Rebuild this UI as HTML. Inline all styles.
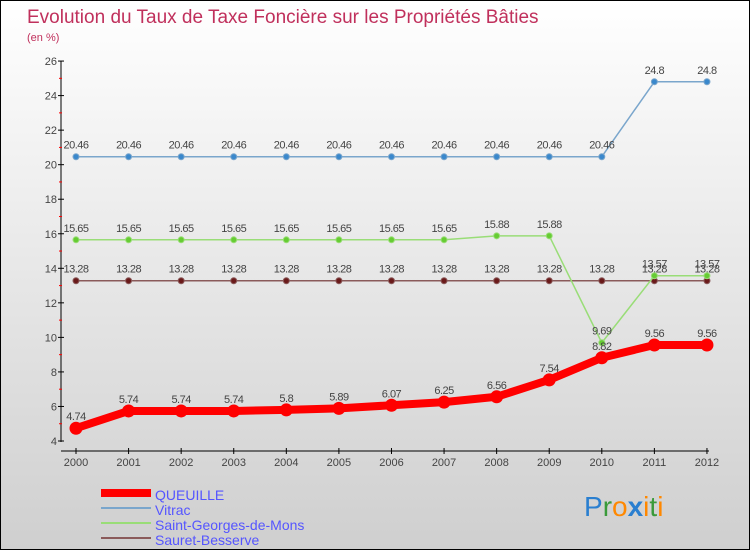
<!DOCTYPE html>
<html><head><meta charset="utf-8"><style>
body{margin:0}
#c{width:748px;height:548px;border:1px solid #000;background:linear-gradient(#fff,#cfcfcf);position:relative;font-family:"Liberation Sans",sans-serif}
</style></head><body>
<div id="c">
<svg id="s" width="748" height="548" style="position:absolute;left:0;top:0" font-family="Liberation Sans, sans-serif">
<text x="26" y="22" font-size="19" fill="#c0305c">Evolution du Taux de Taxe Foncière sur les Propriétés Bâties</text>
<text x="26" y="40" font-size="11" fill="#c0305c">(en %)</text>
<g id="ax"></g><g id="marks"></g>
<g>
<rect x="100" y="488" width="50" height="8" fill="#f00"/>
<text x="154" y="499" font-size="14" fill="#5555ff">QUEUILLE</text>
<rect x="100" y="506" width="50" height="2" fill="#7aa6cc"/>
<text x="154" y="514" font-size="14" fill="#5555ff">Vitrac</text>
<rect x="100" y="521" width="50" height="2" fill="#99dd77"/>
<text x="154" y="529" font-size="14" fill="#5555ff">Saint-Georges-de-Mons</text>
<rect x="100" y="536" width="50" height="2" fill="#8a5a5a"/>
<text x="154" y="544" font-size="14" fill="#5555ff">Sauret-Besserve</text>
</g>
<g font-size="28">
<text x="583" y="515"><tspan fill="#2a7fd0">P</tspan><tspan fill="#3a9a3a">r</tspan><tspan fill="#ff8800">o</tspan><tspan fill="#2a7fd0" font-weight="bold">x</tspan><tspan fill="#ff8800">i</tspan><tspan fill="#3a9a3a">t</tspan><tspan fill="#ff8800">i</tspan></text>
</g>
</svg></div>
<script>
const years=[2000,2001,2002,2003,2004,2005,2006,2007,2008,2009,2010,2011,2012];
const queuille=[4.74,5.74,5.74,5.74,5.8,5.89,6.07,6.25,6.56,7.54,8.82,9.56,9.56];
const vitrac=[20.46,20.46,20.46,20.46,20.46,20.46,20.46,20.46,20.46,20.46,20.46,24.8,24.8];
const stgeorges=[15.65,15.65,15.65,15.65,15.65,15.65,15.65,15.65,15.88,15.88,9.69,13.57,13.57];
const sauret=[13.28,13.28,13.28,13.28,13.28,13.28,13.28,13.28,13.28,13.28,13.28,13.28,13.28];
const yTicks=[4,6,8,10,12,14,16,18,20,22,24,26];
const NS="http://www.w3.org/2000/svg";
const X=i=>75+i*52.58, Y=v=>440-(v-4)*17.27;
const ax=document.getElementById('ax'), mk=document.getElementById('marks');
function el(t,a,p,name){const e=document.createElementNS(NS,t);for(const k in a)e.setAttribute(k,a[k]);


p.appendChild(e);return e;}
el('line',{x1:60,y1:60,x2:60,y2:441,stroke:'#000'},ax,'y-axis');
el('line',{x1:60,y1:450,x2:708,y2:450,stroke:'#000'},ax,'x-axis');
yTicks.forEach((v,k)=>{el('line',{x1:57,x2:63,y1:Y(v),y2:Y(v),stroke:'#000'},ax,'y-tick');
if(k<yTicks.length-1)el('line',{x1:58,x2:61,y1:Y(v+1),y2:Y(v+1),stroke:'#f00'},ax,'y-minor-tick');
const t=el('text',{x:56,y:Y(v)+4,'font-size':11,fill:'#444','text-anchor':'end'},ax,'y-tick-label');t.textContent=v;});
years.forEach((yr,i)=>{el('line',{x1:X(i),x2:X(i),y1:447,y2:453,stroke:'#000'},ax,'x-tick');
const t=el('text',{x:X(i),y:465,'font-size':11,fill:'#444','text-anchor':'middle'},ax,'x-tick-label');t.textContent=yr;});
function series(d,col,w,r,name,dot){
el('polyline',{points:d.map((v,i)=>X(i)+','+Y(v)).join(' '),fill:'none',stroke:col,'stroke-width':w,'stroke-linejoin':'round'},mk,name+'-line');
d.forEach((v,i)=>{el('circle',{cx:X(i),cy:Y(v),r:r,fill:dot,stroke:col},mk,name+'-point');
const t=el('text',{x:X(i),y:Y(v)-8,'font-size':11,fill:'#444','text-anchor':'middle','letter-spacing':'-0.5'},mk,name+'-value');t.textContent=v;});}
series(sauret,'#8a5a5a',1.5,3,'sauret','#6a1a1a');
series(stgeorges,'#99dd77',1.5,3,'saint-georges','#66cc33');
series(vitrac,'#7aa6cc',1.5,3,'vitrac','#3a88cc');
series(queuille,'#f00',8,6,'queuille','#f00');
</script>
</body></html>
